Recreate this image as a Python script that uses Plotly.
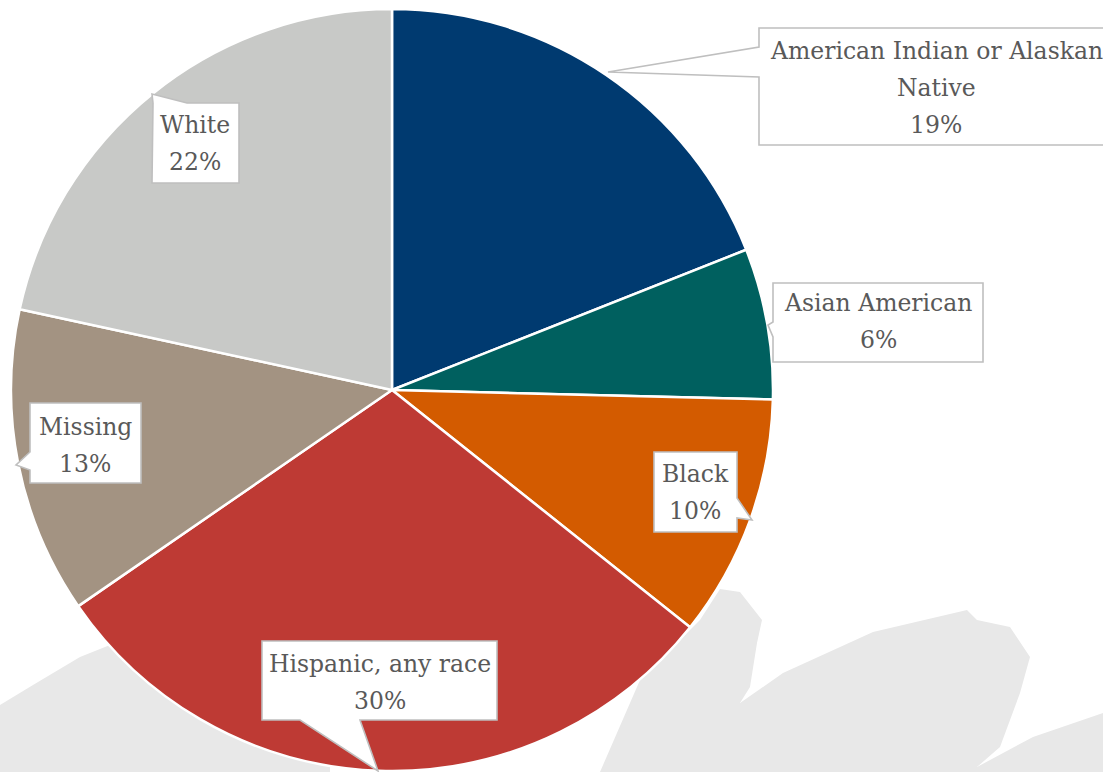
import plotly.graph_objects as go

categories = ["American Indian or Alaskan Native", "Asian American", "Black",
              "Hispanic, any race", "Missing", "White"]
label_lines = [["American Indian or Alaskan", "Native"], ["Asian American"], ["Black"],
               ["Hispanic, any race"], ["Missing"], ["White"]]
values = [19.0, 6.4, 10.3, 29.7, 13.0, 21.6]
colors = ["#003A70", "#00605F", "#D35B00", "#BE3A34", "#A39382", "#C8C9C7"]

W, H = 1103, 772


def px(x, y):
    return x / W, 1 - y / H


def path_from(points):
    pts = [px(x, y) for x, y in points]
    return "M " + " L ".join(f"{a:.5f},{b:.5f}" for a, b in pts) + " Z"


# callout outlines (pixels) and text anchor (centre x, first line y)
callout_outlines = [
    [(759, 28), (1115, 28), (1115, 145), (759, 145), (759, 77), (608, 72), (759, 47)],
    [(773, 283), (983, 283), (983, 362), (773, 362), (773, 337), (768, 325), (773, 322)],
    [(654, 452), (737, 452), (737, 498), (752, 520), (737, 518), (737, 532), (654, 532)],
    [(262, 641), (497, 641), (497, 720), (360, 720), (378, 771), (300, 720), (262, 720)],
    [(30, 403), (141, 403), (141, 483), (30, 483), (30, 470), (16, 465), (30, 452)],
    [(153, 103), (152, 94), (187, 103), (239, 103), (239, 183), (152, 183)],
]
text_pos = [(936, 51), (878, 303), (695, 474), (380, 664), (85, 427), (195, 125)]
line_gap = 37

# decorative light-grey brush strokes in the background
bg_strokes = [
    [(0, 705), (33, 685), (80, 657), (110, 645), (330, 700), (330, 772), (0, 772)],
    [(600, 772), (640, 680), (700, 620), (720, 589), (740, 592), (762, 620), (757, 643),
     (750, 687), (740, 703), (783, 673), (873, 632), (967, 610), (977, 620), (1010, 627),
     (1030, 657), (1020, 693), (1000, 747), (977, 767), (1033, 737), (1103, 713),
     (1103, 772)],
]

fig = go.Figure()
fig.add_trace(go.Pie(
    labels=categories,
    values=values,
    sort=False,
    direction="clockwise",
    rotation=0,
    marker=dict(colors=colors, line=dict(color="white", width=2.5)),
    textinfo="none",
    hoverinfo="skip",
    showlegend=False,
    domain=dict(x=[11 / W, 773 / W], y=[1 / H, 763 / H]),
))

for s in bg_strokes:
    fig.add_shape(type="path", path=path_from(s), xref="paper", yref="paper",
                  fillcolor="#E8E8E8", line=dict(width=0), layer="below")

total = sum(values)
font = dict(family="DejaVu Serif", size=23.5, color="#595959")
for lines, v, outline, (cx, y0) in zip(label_lines, values, callout_outlines, text_pos):
    fig.add_shape(type="path", path=path_from(outline), xref="paper", yref="paper",
                  fillcolor="white", line=dict(color="#BFBFBF", width=1.6), layer="above")
    all_lines = lines + [f"{round(v / total * 100)}%"]
    for i, t in enumerate(all_lines):
        x, y = px(cx, y0 + i * line_gap)
        fig.add_annotation(x=x, y=y, xref="paper", yref="paper", text=t,
                           showarrow=False, xanchor="center", yanchor="middle",
                           font=font)

fig.update_layout(
    width=W, height=H,
    margin=dict(l=0, r=0, t=0, b=0),
    paper_bgcolor="white", plot_bgcolor="white",
)

fig.write_html("out.html", config={"displayModeBar": False},
               post_script="document.body.style.margin='0';")
